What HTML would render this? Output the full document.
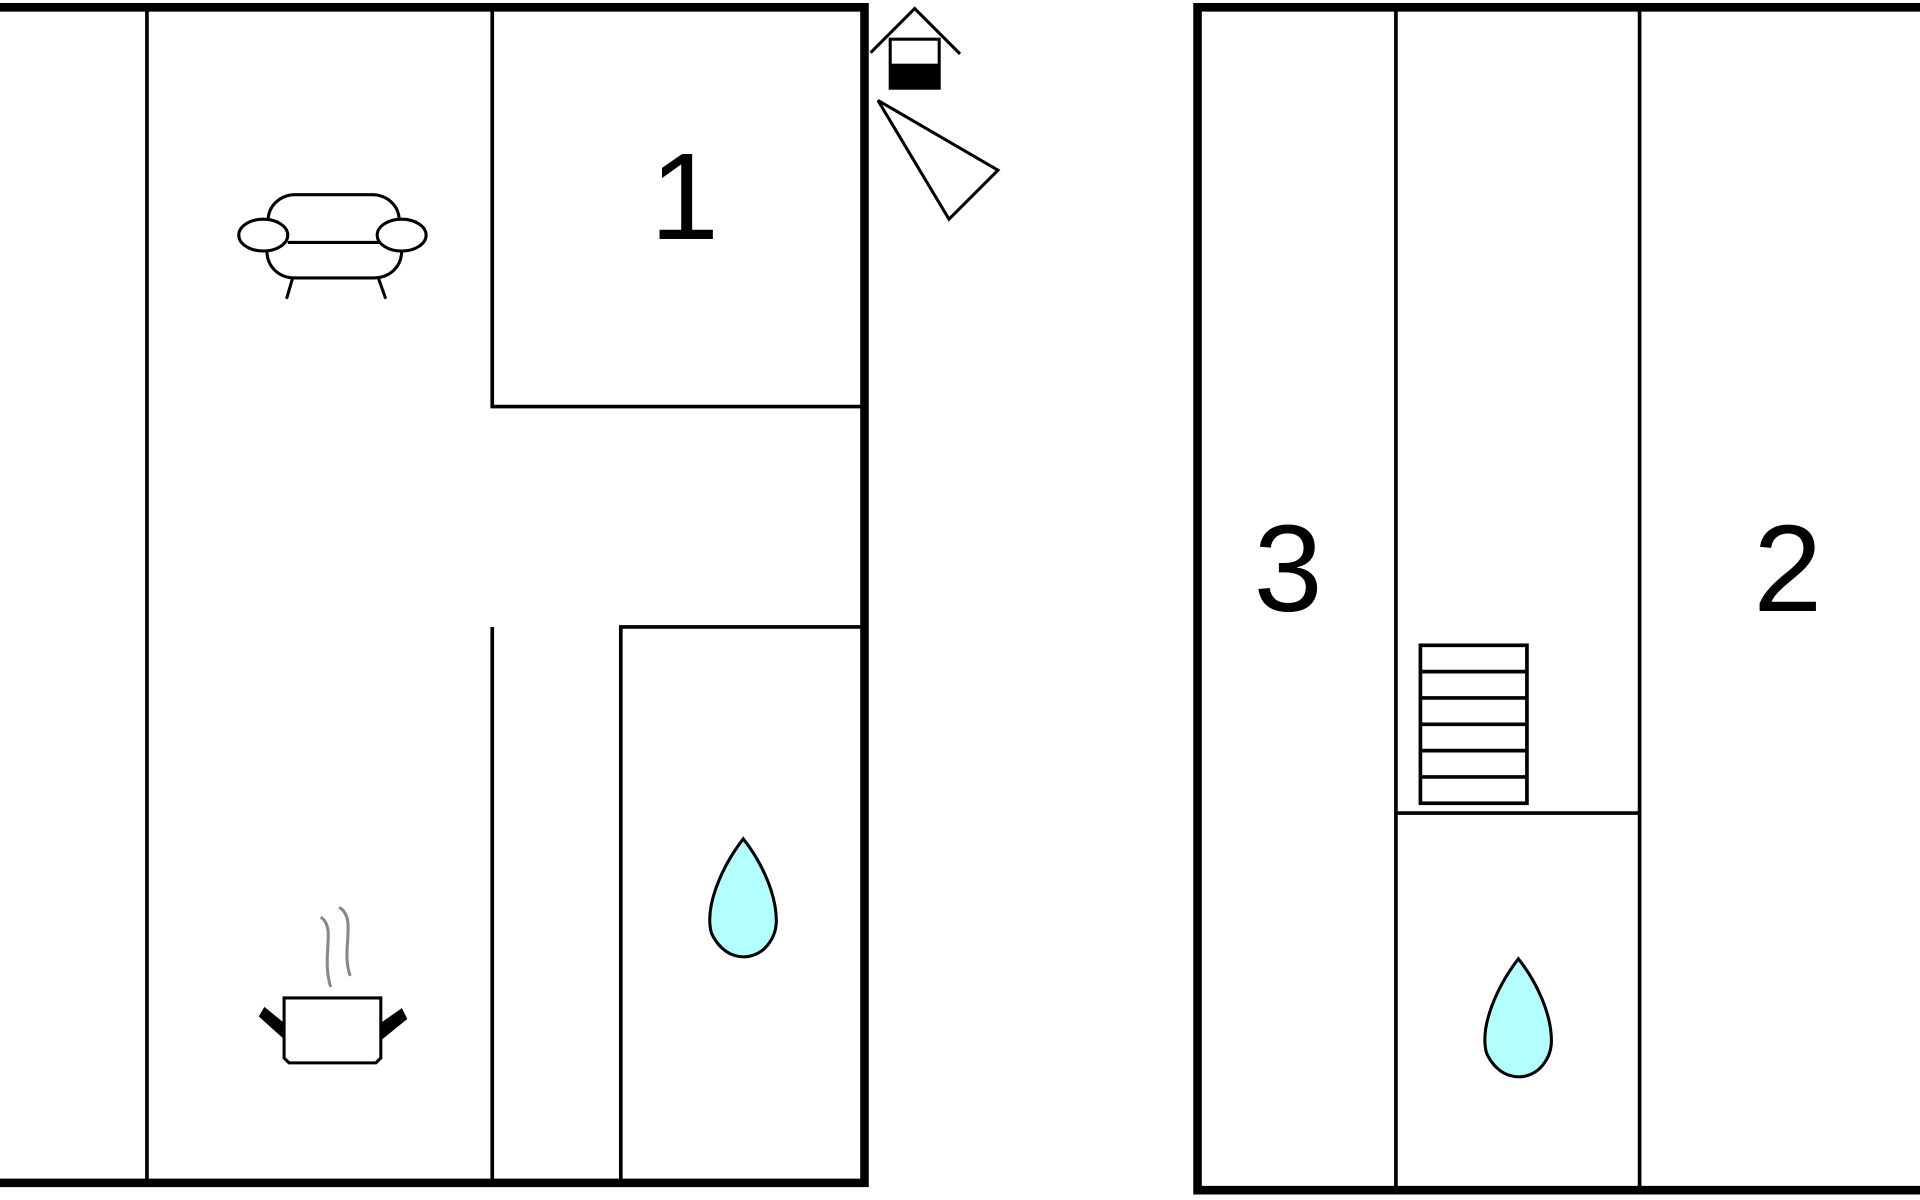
<!DOCTYPE html>
<html><head><meta charset="utf-8"><style>html,body{margin:0;padding:0;background:#fff;width:1920px;height:1200px;overflow:hidden}svg{display:block}</style></head>
<body>
<svg width="1920" height="1200" viewBox="0 0 1568 980" xmlns="http://www.w3.org/2000/svg">
<rect width="1568" height="980" fill="#fff"/>
<g stroke="#000" fill="none">
<!-- left plan outer -->
<path d="M0 6 H706 V966 H0" stroke-width="7"/>
<g stroke-width="3">
<path d="M120 6 V966"/>
<path d="M402 6 V332 H706"/>
<path d="M402 512 V966"/>
<path d="M507 966 V512 H706"/>
</g>
<!-- right plan outer -->
<path d="M1572 6 H978 V972 H1572" stroke-width="7"/>
<g stroke-width="3">
<path d="M1140 6 V972"/>
<path d="M1339 6 V972"/>
<path d="M1140 664 H1339"/>
<rect x="1160" y="527" width="87" height="129"/>
<path d="M1160 548.5 H1247 M1160 570 H1247 M1160 591.5 H1247 M1160 613 H1247 M1160 634.5 H1247"/>
</g>
<!-- compass -->
<g stroke-width="2.5">
<path d="M711 43 L747 7 L784 44"/>
<rect x="727" y="32" width="40" height="40"/>
<path d="M717 82 L815 139 L775 179 Z"/>
</g>
<rect x="727" y="52" width="40" height="20" fill="#000" stroke="none"/>
<!-- drops -->
<path d="M607 685 C590 707 575 740 581 762 C590 782 610 787 624 775 C630 769 634 762 634 752 C634 730 622 704 607 685 Z" fill="#b3ffff" stroke-width="2.5"/>
<path d="M1240 783 C1223 805 1208 838 1214 860 C1223 880 1243 885 1257 873 C1263 867 1267 860 1267 850 C1267 828 1255 802 1240 783 Z" fill="#b3ffff" stroke-width="2.5"/>
<!-- sofa -->
<g stroke-width="2.5">
<path d="M219 180 C219 168 229 159 241 159 H304 C316 159 326 168 326 180"/>
<path d="M235 198 H310"/>
<path d="M218 205 C218 218 228 227 241 227 H305 C318 227 328 218 328 205"/>
<ellipse cx="215" cy="192" rx="20" ry="13" fill="#fff"/>
<ellipse cx="328" cy="192" rx="20" ry="13" fill="#fff"/>
<path d="M239 227 L234 244 M309 227 L315 244"/>
</g>
<!-- pot -->
<g stroke-width="2.5">
<path d="M232 815 H311 V864 L307 868 H236 L232 864 Z"/>
<path d="M262 749 C275 758 262 780 270 806" stroke="#888"/>
<path d="M277 741 C292 750 278 775 286 797" stroke="#888"/>
</g>
<path d="M232 836 L216 823 L212 830 L232 848 Z" fill="#000"/>
<path d="M311 836 L328 824 L332 832 L311 849 Z" fill="#000"/>
</g>
<g font-family="Liberation Sans, sans-serif" font-size="101" fill="#000" text-anchor="middle">
<text x="559" y="195">1</text>
<text x="1052" y="499">3</text>
<text x="1460" y="499">2</text>
</g>
</svg>
</body></html>
